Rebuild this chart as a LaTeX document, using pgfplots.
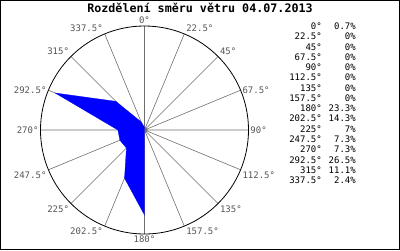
\documentclass[border=0pt]{standalone}
\usepackage{pgfplots}
\pgfplotsset{compat=1.18}
\usepgfplotslibrary{polar}
\usepackage{pgfplotstable}
\usepackage{fontspec}
\setmainfont{Liberation Sans}
\newfontfamily\monofont{DejaVu Sans Mono}
\definecolor{spoke}{RGB}{110,110,110}
\definecolor{lab}{RGB}{85,85,85}
\pgfplotstableread{
dir pct
0 0.7
22.5 0
45 0
67.5 0
90 0
112.5 0
135 0
157.5 0
180 23.3
202.5 14.3
225 7
247.5 7.3
270 7.3
292.5 26.5
315 11.1
337.5 2.4
}\winddata
\begin{document}
\begin{tikzpicture}
\useasboundingbox (0,0) rectangle (400pt,250pt);
\begin{polaraxis}[
  at={(144.5pt,120pt)}, anchor=center,
  scale only axis, width=208pt, height=208pt,
  xmin=0, xmax=360, ymin=0, ymax=28.5,
  xtick={0,22.5,...,337.5},
  xticklabels={},
  ytick=\empty,
  xmajorgrids=true, ymajorgrids=false,
  major grid style={spoke, line width=0.6pt},
  x axis line style={black, line width=0.8pt},
  y axis line style={draw=none},
  tick style={draw=none},
  clip=false,
]
\addplot[fill=blue, draw=blue, line width=0.3pt] table[x expr={mod(450-\thisrow{dir},360)}, y=pct] {\winddata} -- cycle;
\foreach \a/\an/\t in {90/south/0°, 67.5/south west/22.5°, 45/south west/45°, 22.5/west/67.5°, 0/west/90°, 337.5/north west/112.5°, 315/north west/135°, 292.5/north west/157.5°, 270/north/180°, 247.5/north east/202.5°, 225/north east/225°, 202.5/north east/247.5°, 180/east/270°, 157.5/east/292.5°, 135/south east/315°, 112.5/south east/337.5°} {
  \edef\temp{\noexpand\node[anchor=\an, inner sep=1.8pt, text=lab, font=\noexpand\monofont\noexpand\fontsize{9}{10}\noexpand\selectfont] at (axis cs:\a,28.5) {\t};}
  \temp
}
\end{polaraxis}
\node[anchor=base, font=\monofont\bfseries\fontsize{11.7}{13}\selectfont] at (200pt,237.3pt) {Rozdělení směru větru 04.07.2013};
\foreach \d/\p [count=\i from 0] in {0°/0.7\%, 22.5°/0\%, 45°/0\%, 67.5°/0\%, 90°/0\%, 112.5°/0\%, 135°/0\%, 157.5°/0\%, 180°/23.3\%, 202.5°/14.3\%, 225°/7\%, 247.5°/7.3\%, 270°/7.3\%, 292.5°/26.5\%, 315°/11.1\%, 337.5°/2.4\%} {
  \node[anchor=base east, inner sep=0pt, font=\monofont\fontsize{9}{10}\selectfont] at (322pt, 220.5pt-\i*10.27pt) {\d};
  \node[anchor=base east, inner sep=0pt, font=\monofont\fontsize{9}{10}\selectfont] at (356pt, 220.5pt-\i*10.27pt) {\p};
}
\draw[line width=1pt] (0.5pt,0.5pt) rectangle (399.5pt,249.5pt);
\end{tikzpicture}
\end{document}
